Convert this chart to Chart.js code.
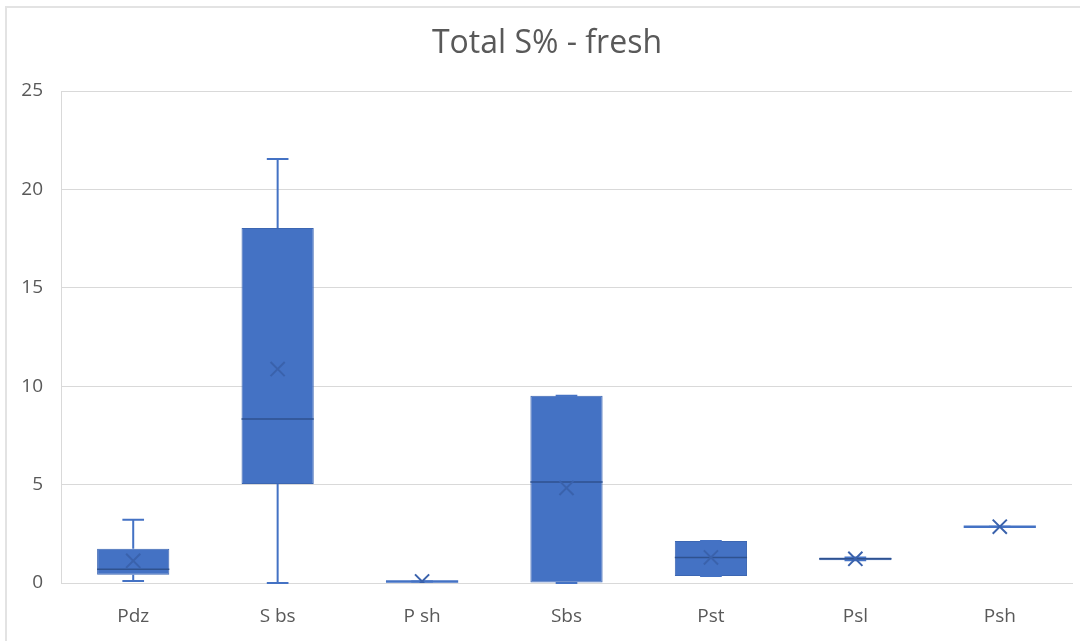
<!DOCTYPE html>
<html>
<head>
<meta charset="utf-8">
<script src="https://cdn.jsdelivr.net/npm/chart.js@4.4.1/dist/chart.umd.min.js"></script>
<style>
  html, body { margin: 0; padding: 0; background: #fff; overflow: hidden; }
  #frame {
    position: absolute; left: 5px; top: 6px;
    width: 1100px; height: 660px;
    border: 2px solid #e3e3e3; box-sizing: border-box;
  }
  #chart { position: absolute; left: 0; top: 0; }
</style>
</head>
<body>
<div id="frame"></div>
<canvas id="chart" width="1094" height="641"></canvas>
<script>
(function () {
    'use strict';

    // box plot summary per group
    const categories = ['Pdz', 'S bs', 'P sh', 'Sbs', 'Pst', 'Psl', 'Psh'];
    const minVals    = [0.10, 0.00, 0.08, 0.00, 0.36, 1.16, 2.86];
    const q1Vals     = [0.42, 5.03, 0.08, 0.00, 0.36, 1.16, 2.86];
    const medianVals = [0.70, 8.33, 0.08, 5.13, 1.29, 1.23, 2.86];
    const q3Vals     = [1.74, 18.04, 0.08, 9.52, 2.13, 1.30, 2.86];
    const maxVals    = [3.22, 21.55, 0.08, 9.52, 2.13, 1.30, 2.86];
    const meanVals   = [1.13, 10.87, 0.08, 4.83, 1.30, 1.23, 2.86];
    const yTicks     = [0, 5, 10, 15, 20, 25];

    const BLUE = '#4472C4';
    const DARK = '#2F528F';
    const TEXT = '#595959';
    const GRID = '#d9d9d9';
    const FONT = "'Open Sans', sans-serif";

    // whiskers, caps and median line on top of each box
    const boxExtras = {
        id: 'boxExtras',
        afterDatasetDraw(chart, args) {
            if (args.index !== 0) return;
            const ctx = chart.ctx;
            const y = chart.scales.y;
            const bars = args.meta.data;

            ctx.save();
            bars.forEach(function (bar, i) {
                const cx = bar.x;
                const half = bar.width / 2;
                const cap = bar.width * 0.15;
                const yMin = y.getPixelForValue(minVals[i]);
                const yQ1 = y.getPixelForValue(q1Vals[i]);
                const yQ3 = y.getPixelForValue(q3Vals[i]);
                const yMax = y.getPixelForValue(maxVals[i]);
                const yMed = y.getPixelForValue(medianVals[i]);

                ctx.strokeStyle = BLUE;
                ctx.lineWidth = 2;
                ctx.beginPath();
                ctx.moveTo(cx, yQ3); ctx.lineTo(cx, yMax);
                ctx.moveTo(cx - cap, yMax); ctx.lineTo(cx + cap, yMax);
                ctx.moveTo(cx, yQ1); ctx.lineTo(cx, yMin);
                ctx.moveTo(cx - cap, yMin); ctx.lineTo(cx + cap, yMin);
                ctx.stroke();

                // median across the full box
                const flat = q3Vals[i] === q1Vals[i];
                ctx.strokeStyle = flat ? BLUE : DARK;
                ctx.lineWidth = flat ? 2.5 : 1.5;
                ctx.beginPath();
                ctx.moveTo(cx - half, yMed);
                ctx.lineTo(cx + half, yMed);
                ctx.stroke();
            });
            ctx.restore();
        }
    };

    const boxes = categories.map(function (_, i) { return [q1Vals[i], q3Vals[i]]; });

    new Chart(document.getElementById('chart'), {
        data: {
            labels: categories,
            datasets: [{
                type: 'bar',
                label: 'Total S%',
                data: boxes,
                backgroundColor: BLUE,
                borderColor: '#3C66B2',
                borderWidth: 1,
                borderSkipped: false,
                categoryPercentage: 1,
                barPercentage: 0.5,
                order: 1
            }, {
                type: 'line',
                label: 'Mean',
                data: meanVals,
                showLine: false,
                pointStyle: 'crossRot',
                pointRadius: 10,
                pointBorderWidth: 2,
                pointBorderColor: '#3A62AC',
                pointBackgroundColor: '#3A62AC',
                order: 0
            }]
        },
        options: {
            responsive: false,
            animation: false,
            layout: { padding: 0 },
            plugins: {
                legend: { display: false },
                tooltip: { enabled: false },
                title: {
                    display: true,
                    text: 'Total S% - fresh',
                    color: TEXT,
                    font: { family: FONT, size: 32, weight: 'normal' },
                    padding: { top: 25, bottom: 27.6 }
                }
            },
            scales: {
                x: {
                    afterFit(scale) { scale.height = 58; },
                    grid: { display: false, drawTicks: false },
                    border: { display: true, color: GRID, width: 1 },
                    ticks: {
                        color: TEXT,
                        padding: 22,
                        font: { family: FONT, size: 19 }
                    }
                },
                y: {
                    min: yTicks[0],
                    max: yTicks[yTicks.length - 1],
                    afterBuildTicks(scale) {
                        scale.ticks = yTicks.map(function (v) { return { value: v }; });
                    },
                    afterFit(scale) { scale.width = 61; },
                    grid: { color: GRID, lineWidth: 1, drawTicks: false },
                    border: { display: true, color: GRID, width: 1 },
                    ticks: {
                        color: TEXT,
                        padding: 18,
                        font: { family: FONT, size: 19 }
                    }
                },
                // empty right margin strip
                yRight: {
                    position: 'right',
                    afterFit(scale) { scale.width = 22; },
                    grid: { display: false, drawTicks: false },
                    border: { display: false },
                    ticks: { display: false }
                }
            }
        },
        plugins: [boxExtras]
    });
})();
</script>
</body>
</html>
